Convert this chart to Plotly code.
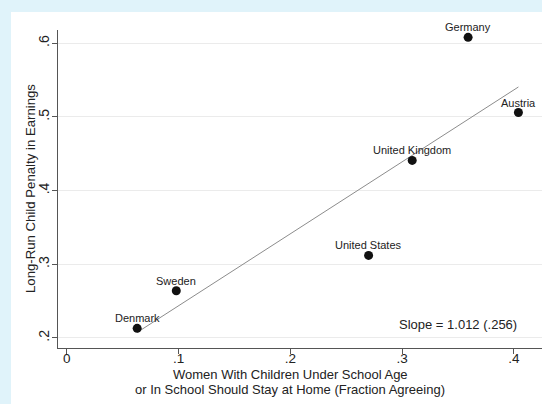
import numpy as np
import plotly.graph_objects as go

countries = ["Germany", "Austria", "United Kingdom", "United States", "Sweden", "Denmark"]
norms = [0.359, 0.404, 0.309, 0.270, 0.098, 0.063]
penalty = [0.608, 0.506, 0.441, 0.312, 0.264, 0.213]

x_ticks = [0, 0.1, 0.2, 0.3, 0.4]
x_labels = ["0", ".1", ".2", ".3", ".4"]
y_ticks = [0.2, 0.3, 0.4, 0.5, 0.6]
y_labels = [".2", ".3", ".4", ".5", ".6"]

x_title_lines = ["Women With Children Under School Age",
                 "or In School Should Stay at Home (Fraction Agreeing)"]
y_title = "Long-Run Child Penalty in Earnings"
slope_text = "Slope = 1.012 (.256)"

# fitted line (OLS through the plotted points)
b, a = np.polyfit(norms, penalty, 1)
fx = [min(norms), max(norms)]
fy = [a + b * v for v in fx]

W, H = 542, 404
L, R, T, B = 58, 0, 30, 56
pw, ph = W - L - R, H - T - B


def px_x(p):
    return (p - L) / pw


def px_y(p):
    return (H - B - p) / ph


FONT = "Liberation Sans, Arial, Helvetica"
TXT = "#222222"

fig = go.Figure()
fig.add_trace(go.Scatter(x=fx, y=fy, mode="lines",
                         line=dict(color="#8c8c8c", width=1), hoverinfo="skip",
                         showlegend=False))
fig.add_trace(go.Scatter(x=norms, y=penalty, mode="markers",
                         marker=dict(color="#111111", size=9),
                         cliponaxis=False, showlegend=False))

for c, xv, yv in zip(countries, norms, penalty):
    fig.add_annotation(x=xv, y=yv, xref="x", yref="y", text=c, showarrow=False,
                       xanchor="center", yanchor="bottom", yshift=2,
                       font=dict(family=FONT, size=11, color=TXT))

fig.add_annotation(x=px_x(519), xref="paper", xanchor="right",
                   y=px_y(324), yref="paper", yanchor="middle",
                   text=slope_text, showarrow=False,
                   font=dict(family=FONT, size=13, color=TXT))

for line, yp in zip(x_title_lines, [374.5, 389.5]):
    fig.add_annotation(x=px_x(290), xref="paper", xanchor="center",
                       y=px_y(yp), yref="paper", yanchor="middle",
                       text=line, showarrow=False, borderpad=0,
                       font=dict(family=FONT, size=13, color=TXT))

fig.add_annotation(x=px_x(30), xref="paper", xanchor="center",
                   y=0.5, yref="paper", yanchor="middle", textangle=-90,
                   text=y_title, showarrow=False,
                   font=dict(family=FONT, size=13.2, color=TXT))

# white panel
fig.add_shape(type="rect", xref="paper", yref="paper",
              x0=px_x(11), x1=1.05, y0=px_y(410), y1=px_y(12),
              fillcolor="white", line=dict(width=0), layer="below")

fig.update_layout(
    width=W, height=H,
    margin=dict(l=L, r=R, t=T, b=B, pad=0),
    paper_bgcolor="#e0f3fa", plot_bgcolor="white",
    font=dict(family=FONT, color=TXT),
    xaxis=dict(range=[-0.0078, 0.4251], tickvals=x_ticks, ticktext=x_labels,
               showgrid=False, zeroline=False, showline=True, linecolor="#555555", linewidth=1,
               ticks="outside", ticklen=5, tickcolor="#555555", ticklabelstandoff=-7,
               tickfont=dict(family=FONT, size=13.5, color=TXT)),
    yaxis=dict(range=[0.1863, 0.618], tickvals=y_ticks, ticktext=y_labels,
               showgrid=True, gridcolor="#ebebeb", gridwidth=1,
               zeroline=False, showline=True, linecolor="#555555", linewidth=1,
               ticks="outside", ticklen=5, tickcolor="#555555", tickangle=-90,
               ticklabelstandoff=-3,
               tickfont=dict(family=FONT, size=14, color=TXT)),
)

fig.write_html("out.html")
